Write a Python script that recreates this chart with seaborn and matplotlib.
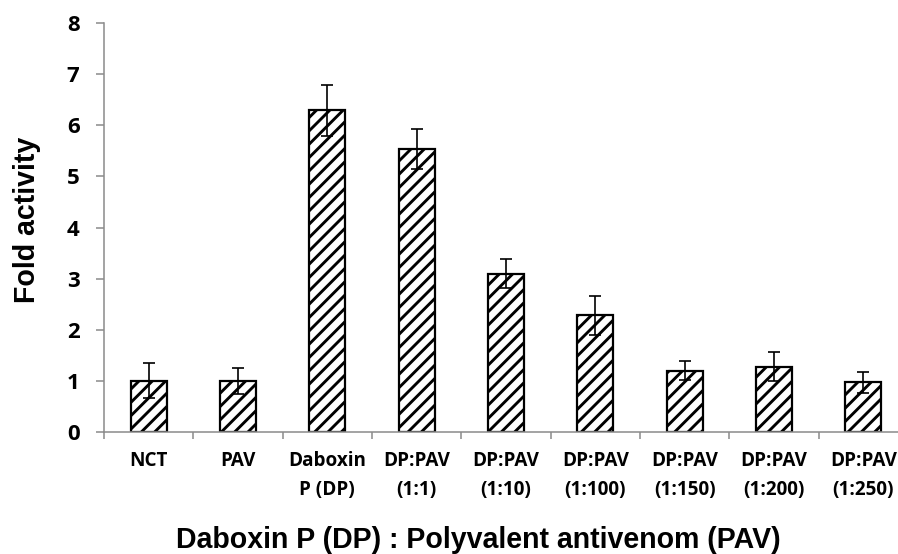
import matplotlib
matplotlib.use("Agg")
import matplotlib.pyplot as plt
import seaborn as sns
import pandas as pd
import numpy as np

# Treatment groups and measured fold activity (mean ± error)
groups = ["NCT", "PAV", "Daboxin\nP (DP)", "DP:PAV\n(1:1)", "DP:PAV\n(1:10)",
          "DP:PAV\n(1:100)", "DP:PAV\n(1:150)", "DP:PAV\n(1:200)", "DP:PAV\n(1:250)"]
fold_activity = [1.00, 1.00, 6.29, 5.54, 3.10, 2.28, 1.20, 1.28, 0.97]
errors = [0.34, 0.26, 0.50, 0.39, 0.29, 0.38, 0.19, 0.28, 0.20]
y_ticks = [0, 1, 2, 3, 4, 5, 6, 7, 8]

df = pd.DataFrame({"group": groups, "fold": fold_activity})

sns.set_theme(style="white")
plt.rcParams["hatch.linewidth"] = 2.6
plt.rcParams["hatch.color"] = "black"

DPI = 80
fig = plt.figure(figsize=(898 / DPI, 554 / DPI), dpi=DPI)
ax = fig.add_axes([104 / 898, (554 - 432) / 554, (908 - 104) / 898, (432 - 23) / 554])

sns.barplot(data=df, x="group", y="fold", ax=ax, color="white", width=0.40,
            edgecolor="black", linewidth=2.0, hatch="//", errorbar=None)

xpos = np.arange(len(groups))
ax.errorbar(xpos, fold_activity, yerr=errors, fmt="none", ecolor="black",
            elinewidth=1.5, capsize=5.5, capthick=1.5, zorder=5)

ax.set_ylim(0, 8)
ax.set_xlim(-0.5, len(groups) - 0.5)
ax.set_yticks(y_ticks)

axis_gray = "#8c8c8c"
for side in ["top", "right"]:
    ax.spines[side].set_visible(False)
for side in ["left", "bottom"]:
    ax.spines[side].set_color(axis_gray)
    ax.spines[side].set_linewidth(1.4)

ytick_font = dict(family="Open Sans", weight="bold", size=20)
xtick_font = dict(family="Open Sans", weight="bold", size=17)
ax.set_yticklabels([str(v) for v in y_ticks], fontdict=ytick_font, color="black")
ax.set_xticks(xpos)
ax.set_xticklabels(groups, fontdict=xtick_font, color="black", linespacing=1.62)
ax.set_xticks(np.arange(-0.5, len(groups), 1.0), minor=True)

ax.tick_params(axis="y", which="major", left=True, length=7, width=1.4,
               color=axis_gray, pad=15)
ax.tick_params(axis="x", which="major", bottom=False, length=0, pad=17)
ax.tick_params(axis="x", which="minor", bottom=True, length=6, width=1.4,
               color=axis_gray)

label_font = dict(family="Liberation Sans", weight="bold", size=25.7)
ax.set_ylabel("Fold activity", fontdict=label_font, color="black")
ax.yaxis.set_label_coords(-(104 - 41) / (908 - 104), (432 - 220) / (432 - 23))
ax.set_xlabel("Daboxin P (DP) : Polyvalent antivenom (PAV)", fontdict=label_font,
              color="black")
ax.xaxis.label.set_verticalalignment("baseline")
ax.xaxis.set_label_coords((478 - 104) / (908 - 104), -(548 - 432) / (432 - 23))

fig.savefig("out.png", dpi=DPI, facecolor="white")
